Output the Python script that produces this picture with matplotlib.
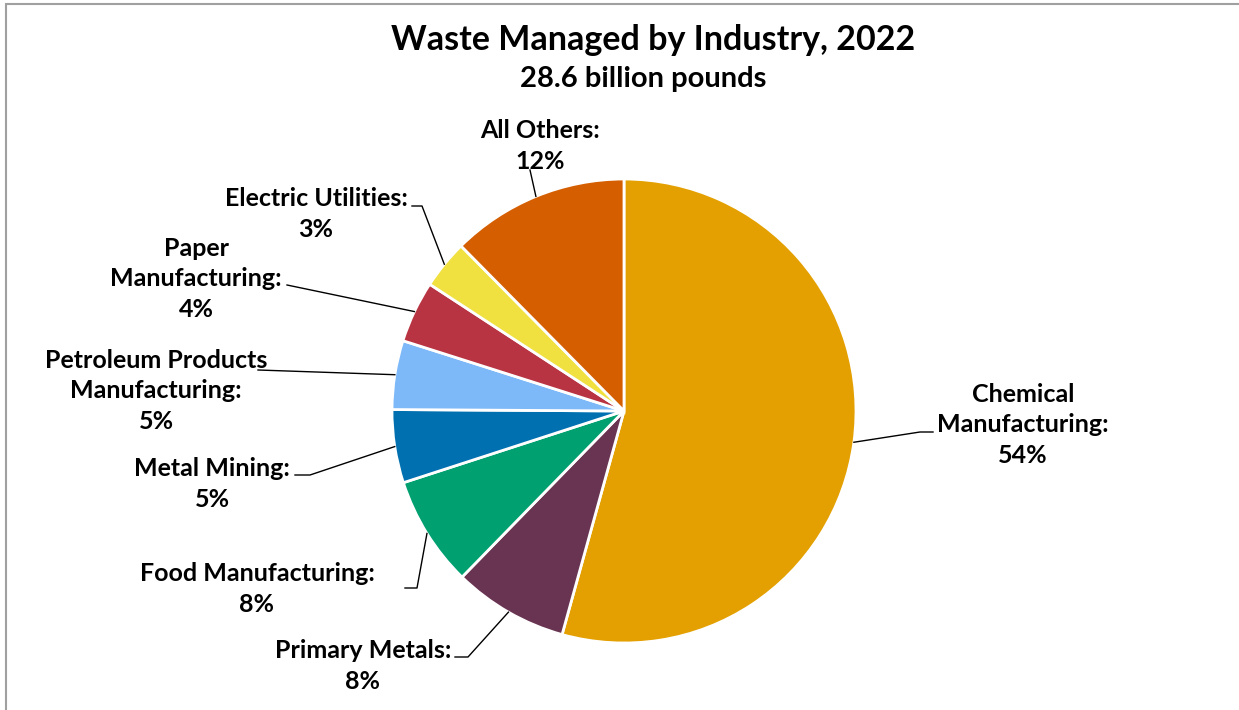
import numpy as np
import matplotlib
matplotlib.use("Agg")
import matplotlib.pyplot as plt
from matplotlib.patches import Rectangle

plt.rcParams['font.family'] = ['Lato', 'DejaVu Sans']

# ---- data ----
categories = ["Chemical\nManufacturing", "Primary Metals", "Food Manufacturing",
              "Metal Mining", "Petroleum Products\nManufacturing",
              "Paper\nManufacturing", "Electric Utilities", "All Others"]
values = [54.3, 8.0, 7.7, 5.1, 4.8, 4.3, 3.4, 12.4]
colors = ["#E3A000", "#693452", "#00A070", "#0070B0", "#7DB8F8",
          "#B83442", "#F0E040", "#D55E00"]
title = "Waste Managed by Industry, 2022"
subtitle = "28.6 billion pounds"

# ---- layout (pixel coords, y measured from top) ----
W, H = 1239, 710
center_px = (624, 411)
radius_px = 232
label_pos = [(1023, 425), (363, 666), (257, 589), (212, 484), (156, 391),
             (196, 279), (316, 214), (540, 146)]
elbows = [[(933, 432), (920, 432)],
          [(455, 657), (468, 657)],
          [(405, 588), (417, 588)],
          [(295, 475), (310, 475)],
          [(258, 370)],
          [(287, 285)],
          [(412, 206), (422, 206)],
          [(530, 170)]]

fig = plt.figure(figsize=(W / 100, H / 100), dpi=100)
ax = fig.add_axes([0, 0, 1, 1])
ax.set_xlim(0, W)
ax.set_ylim(0, H)
ax.set_aspect('equal')
ax.axis('off')

cx, cy = center_px[0], H - center_px[1]
wedges, _ = ax.pie(values, colors=colors, startangle=90, counterclock=False,
                   center=(cx, cy), radius=radius_px,
                   wedgeprops=dict(edgecolor='white', linewidth=2))
ax.set_xlim(0, W)
ax.set_ylim(0, H)

total = sum(values)
for i, (w, name) in enumerate(zip(wedges, categories)):
    pct = values[i] / total * 100
    txt = f"{name}:\n{pct:.0f}%"
    tx, ty = label_pos[i]
    ax.text(tx, H - ty, txt, ha='center', va='center', fontsize=18,
            fontweight='bold', linespacing=1.4, color='black')
    mid = np.deg2rad((w.theta1 + w.theta2) / 2)
    ex = cx + radius_px * np.cos(mid)
    ey = cy + radius_px * np.sin(mid)
    pts = [(x, H - y) for x, y in elbows[i]] + [(ex, ey)]
    xs, ys = zip(*pts)
    ax.plot(xs, ys, color='black', linewidth=1)

fig.text(653 / W, 1 - 40 / H, title, ha='center', va='center', fontsize=24.5,
         fontweight='bold')
fig.text(643 / W, 1 - 79 / H, subtitle, ha='center', va='center', fontsize=21,
         fontweight='bold')

fig.patches.append(Rectangle((6 / W, -0.1), 1.2, 1.1 - 3.5 / H,
                             transform=fig.transFigure, fill=False,
                             edgecolor='#A0A0A0', linewidth=1.5))

fig.savefig("out.png", dpi=100, facecolor='white')
